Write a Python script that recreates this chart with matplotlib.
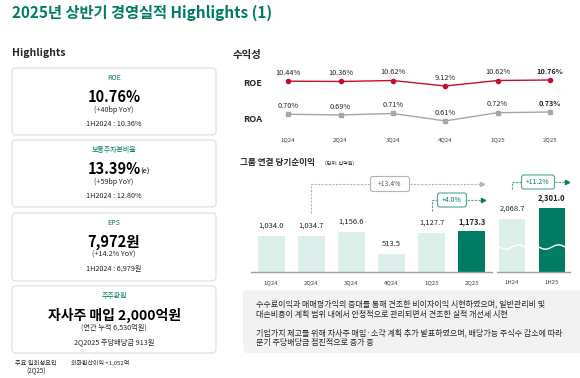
import numpy as np
import matplotlib
matplotlib.use("Agg")
from matplotlib import pyplot as plt
from matplotlib.patches import FancyBboxPatch

plt.rcParams['font.family'] = ['Noto Sans CJK KR', 'DejaVu Sans']

# data
quarters = ['1Q24', '2Q24', '3Q24', '4Q24', '1Q25', '2Q25']
roe = [10.44, 10.36, 10.62, 9.12, 10.62, 10.76]
roa = [0.70, 0.69, 0.71, 0.61, 0.72, 0.73]
net_income_q = [1034.0, 1034.7, 1156.6, 513.5, 1127.7, 1173.3]
halves = ['1H24', '1H25']
net_income_h = [2068.7, 2301.0]
growth_labels = ['+13.4%', '+4.0%', '+11.2%']

cards = [
    ('ROE', '10.76%', '', '(+40bp YoY)', '1H2024 : 10.36%'),
    ('보통주자본비율', '13.39%', '(e)', '(+59bp YoY)', '1H2024 : 12.80%'),
    ('EPS', '7,972원', '', '(+14.2% YoY)', '1H2024 : 6,979원'),
    ('주주환원', '자사주 매입 2,000억원', '', '(연간 누적 6,530억원)', '2Q2025 주당배당금 913원'),
]
comment_lines = [
    '수수료이익과 매매평가익의 증대를 통해 견조한 비이자이익 시현하였으며, 일반관리비 및',
    '대손비용이 계획 범위 내에서 안정적으로 관리되면서 견조한 실적 개선세 시현',
    '기업가치 제고를 위해 자사주 매입·소각 계획 추가 발표하였으며, 배당가능 주식수 감소에 따라',
    '분기 주당배당금 점진적으로 증가 중',
]

TEAL = '#007b64'
MINT = '#dcefeb'
RED = '#c0102c'
GRAY = '#a6a6a6'
DARK = '#262626'

W, H = 580, 378
fig = plt.figure(figsize=(5.8, 3.78), dpi=100)


def px_axes(x0, y0, x1, y1):
    a = fig.add_axes([x0 / W, 1 - y1 / H, (x1 - x0) / W, (y1 - y0) / H])
    a.patch.set_visible(False)
    return a


# background axes in pixel units
bg = fig.add_axes([0, 0, 1, 1], zorder=0)
bg.set_xlim(0, W)
bg.set_ylim(H, 0)
bg.axis('off')

bg.text(12, 13, '2025년 상반기 경영실적 Highlights (1)', color=TEAL, fontsize=11,
        fontweight='bold', va='center', ha='left')

# ---- left: highlight cards
bg.text(12, 53, 'Highlights', fontsize=7.5, fontweight='bold', color=DARK, va='center')
card_tops = [68, 140, 213, 286]
card_bottoms = [135, 207, 281, 353]
for (head, big, sup, sub, prev), t, b in zip(cards, card_tops, card_bottoms):
    bg.add_patch(FancyBboxPatch((12, t), 204, b - t, boxstyle='round,pad=0,rounding_size=4',
                                fc='white', ec='#dedede', lw=0.8))
    bg.text(114, t + 10, head, color=TEAL, fontsize=5, ha='center', va='center')
    big_size = 10 if len(big) > 8 else 10.5
    bg.text(114, t + 29, big, color='black', fontsize=big_size, ha='center', va='center',
            fontweight='bold')
    if sup:
        bg.text(140, t + 32, sup, color='black', fontsize=5.5, ha='left', va='center')
    bg.text(114, t + 42, sub, color=DARK, fontsize=5.2, ha='center', va='center')
    bg.text(114, t + 56, prev, color=DARK, fontsize=5.2, ha='center', va='center')

bg.text(36, 363, '주요 일회성요인', fontsize=4.5, color=DARK, ha='center', va='center')
bg.text(36, 371, '(2Q25)', fontsize=4.5, color=DARK, ha='center', va='center')
bg.text(71, 363, '외화환산이익 +1,052억', fontsize=4.3, color=DARK, ha='left', va='center')

# ---- right top: profitability lines
bg.text(233, 55, '수익성', fontsize=7.5, fontweight='bold', color=DARK, va='center')
bg.text(243, 84, 'ROE', fontsize=6.5, fontweight='bold', color=DARK, va='center')
bg.text(243, 120, 'ROA', fontsize=6.5, fontweight='bold', color=DARK, va='center')

x = np.arange(len(quarters))
ax_roe = px_axes(262, 65, 576, 95)
ax_roe.plot(x, roe, color=RED, lw=1, marker='o', ms=3)
ax_roe.set_xlim(-0.5, 5.5)
ax_roe.set_ylim(6.66, 14.86)
for i, v in enumerate(roe):
    ax_roe.annotate(f'{v:.2f}%', (i, v), xytext=(0, 6), textcoords='offset points',
                    ha='center', va='center', fontsize=5.3, color=DARK,
                    fontweight='bold' if i == len(roe) - 1 else 'normal')
ax_roe.axis('off')

ax_roa = px_axes(262, 100, 576, 130)
ax_roa.plot(x, roa, color=GRAY, lw=1, marker='s', ms=3)
ax_roa.set_xlim(-0.5, 5.5)
ax_roa.set_ylim(0.487, 0.892)
for i, v in enumerate(roa):
    ax_roa.annotate(f'{v:.2f}%', (i, v), xytext=(0, 6), textcoords='offset points',
                    ha='center', va='center', fontsize=5.3, color=DARK,
                    fontweight='bold' if i == len(roa) - 1 else 'normal')
ax_roa.set_xticks(x, quarters, fontsize=4.3, color='#404040')
ax_roa.tick_params(axis='x', length=0, pad=5)
ax_roa.set_yticks([])
for s in ax_roa.spines.values():
    s.set_visible(False)

# ---- right middle: net income bars
bg.text(240, 163, '그룹 연결 당기순이익', fontsize=6.2, fontweight='bold', color=DARK, va='center')
bg.text(325, 163.5, '(단위: 십억원)', fontsize=3.6, color=DARK, va='center')

ax_q = px_axes(251, 150, 492, 272)
qc = [MINT] * (len(quarters) - 1) + [TEAL]
ax_q.bar(x, net_income_q, width=0.67, color=qc)
ax_q.set_xlim(-0.5, 5.5)
ax_q.set_ylim(0, 3514)
for i, v in enumerate(net_income_q):
    ax_q.annotate(f'{v:,.1f}', (i, v), xytext=(0, 7.2), textcoords='offset points',
                  ha='center', va='center', fontsize=5.5, color=DARK,
                  fontweight='bold' if i == len(quarters) - 1 else 'normal')
ax_q.set_xticks(x, quarters, fontsize=4.3, color='#404040')

xh = np.arange(len(halves))
ax_h = px_axes(497, 150, 570, 272)
ax_h.bar(xh, net_income_h, width=0.67, color=[MINT, TEAL])
ax_h.set_xlim(-0.375, 1.45)
ax_h.set_ylim(950, 3524)
for i, v in enumerate(net_income_h):
    ax_h.annotate(f'{v:,.1f}', (i, v), xytext=(0, 7.2), textcoords='offset points',
                  ha='center', va='center', fontsize=5.5, color=DARK,
                  fontweight='bold' if i == 1 else 'normal')
    # axis-break wave
    wx = np.linspace(i - 0.33, i + 0.33, 40)
    ax_h.plot(wx, 1477 + 45 * np.sin((wx - i) * np.pi / 0.33), color='white', lw=1)
ax_h.set_xticks(xh, halves, fontsize=4.3, color='#404040')

for a in (ax_q, ax_h):
    a.tick_params(axis='x', length=0, pad=6)
    a.set_yticks([])
    for k in ('top', 'left', 'right'):
        a.spines[k].set_visible(False)
    a.spines['bottom'].set_color('#a0a0a0')
    a.spines['bottom'].set_linewidth(1)

# growth connectors
connectors = [
    # (path, box center, box width, line color, text color)
    ([(311, 213), (311, 184), (482, 184)], (390, 184), 39, '#b5b5b5', '#595959'),
    ([(432, 211), (432, 200), (483, 200)], (452, 200), 29, '#4ca893', TEAL),
    ([(512, 189), (512, 182), (567, 182)], (538, 182), 33, '#4ca893', TEAL),
]
for lab, (path, (bx, by), bw, lc, tc) in zip(growth_labels, connectors):
    px_, py_ = zip(*path)
    bg.plot(px_, py_, color=lc, lw=0.8, ls=(0, (2, 1.2)))
    bg.plot(px_[-1], py_[-1], marker='>', color=lc if lc != '#4ca893' else TEAL, ms=3)
    bh = 14 if bw < 35 else 15
    bg.add_patch(FancyBboxPatch((bx - bw / 2, by - bh / 2), bw, bh,
                                boxstyle='round,pad=0,rounding_size=2.5',
                                fc='white', ec=lc, lw=0.8, zorder=3))
    bg.text(bx, by, lab, fontsize=5, color=tc, ha='center', va='center', zorder=4)

# ---- right bottom: comment box
bg.add_patch(FancyBboxPatch((243, 290), 345, 63, boxstyle='round,pad=0,rounding_size=5',
                            fc='#f2f2f2', ec='none'))
for yy, line in zip([304, 314, 333, 343], comment_lines):
    bg.text(256, yy, line, fontsize=5.8, color=DARK, ha='left', va='center')

fig.savefig('out.png', dpi=100)
